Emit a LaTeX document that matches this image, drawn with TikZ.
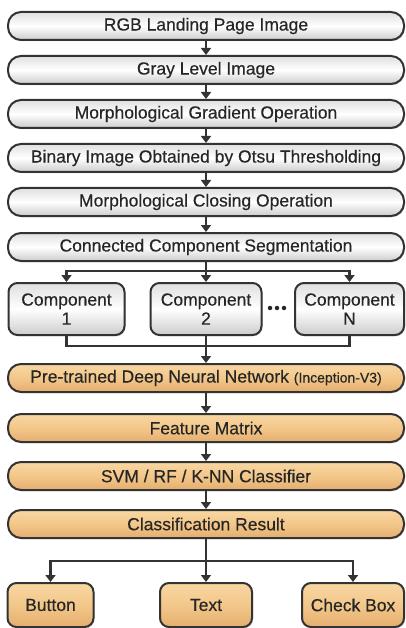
\documentclass[tikz,border=0pt]{standalone}
\usepackage{fontspec}
\setmainfont[FakeBold=0.4]{Liberation Sans}
\usetikzlibrary{arrows.meta,shadows}
\definecolor{txt}{HTML}{262626}
\definecolor{edge}{HTML}{333333}
\definecolor{orA}{HTML}{F8D7A2}
\definecolor{orB}{HTML}{F3C78A}
\definecolor{orC}{HTML}{E4AE6E}
\begin{document}
\begin{tikzpicture}[x=1pt,y=1pt,
 base/.style={draw=edge, line width=2pt, text=txt, font=\fontsize{17.5}{19}\selectfont, inner sep=0pt, align=center,
   drop shadow={opacity=0.35,shadow xshift=1pt,shadow yshift=-1.2pt}},
 graybox/.style={base, top color=gray!25, bottom color=gray!40, middle color=white},
 orbox/.style={base, top color=orA, bottom color=orC, middle color=orB},
 pill/.style={minimum width=396pt, minimum height=28pt, rounded corners=13pt},
 compbox/.style={graybox, minimum height=52pt, rounded corners=9pt},
 outbox/.style={orbox, minimum height=44pt, rounded corners=9pt},
 conn/.style={draw=edge, line width=2.3pt},
 arr/.style={conn, -{Triangle[width=10pt,length=7pt]}},
 dotmark/.style={fill=txt, circle, inner sep=0pt, minimum size=4.5pt}
]
\useasboundingbox (0,0) rectangle (406,-628);

\node[graybox,pill] (n1) at (206,-26) {RGB Landing Page Image};
\node[graybox,pill] (n2) at (206,-70) {Gray Level Image};
\node[graybox,pill] (n3) at (206,-114) {Morphological Gradient Operation};
\node[graybox,pill] (n4) at (206,-158) {Binary Image Obtained by Otsu Thresholding};
\node[graybox,pill] (n5) at (206,-202) {Morphological Closing Operation};
\node[graybox,pill] (n6) at (206,-247) {Connected Component Segmentation};

\node[compbox,minimum width=116pt] (c1) at (66.5,-309) {Component\\1};
\node[compbox,minimum width=111pt] (c2) at (206,-309) {Component\\2};
\node[compbox,minimum width=109pt] (cN) at (349.5,-309) {Component\\N};
\node[dotmark] (d1) at (270,-308) {};
\node[dotmark] (d2) at (277,-308) {};
\node[dotmark] (d3) at (284,-308) {};

\node[orbox,pill] (n7) at (206,-378) {Pre-trained Deep Neural Network\ {\fontsize{14}{15}\selectfont(Inception-V3)}};
\node[orbox,pill] (n8) at (206,-428) {Feature Matrix};
\node[orbox,pill] (n9) at (206,-476) {SVM / RF / K-NN Classifier};
\node[orbox,pill] (n10) at (206,-524) {Classification Result};

\node[outbox,minimum width=86pt] (o1) at (50.5,-605) {Button};
\node[outbox,minimum width=92pt] (o2) at (206,-605) {Text};
\node[outbox,minimum width=102pt] (o3) at (353,-605) {Check Box};

\draw[arr] (n1.south) -- (n2.north);
\draw[arr] (n2.south) -- (n3.north);
\draw[arr] (n3.south) -- (n4.north);
\draw[arr] (n4.south) -- (n5.north);
\draw[arr] (n5.south) -- (n6.north);

\coordinate (s1) at (206,-271);
\draw[conn] (n6.south) -- (s1);
\draw[arr] (s1) -| (c1.north);
\draw[arr] (s1) -| (cN.north);
\draw[arr] (s1) -- (c2.north);

\coordinate (m1) at (206,-346);
\draw[conn] (c1.south) |- (m1) -| (cN.south);
\draw[conn] (c2.south) -- (m1);
\draw[arr] (m1) -- (n7.north);

\draw[arr] (n7.south) -- (n8.north);
\draw[arr] (n8.south) -- (n9.north);
\draw[arr] (n9.south) -- (n10.north);

\coordinate (s2) at (206,-561);
\draw[conn] (n10.south) -- (s2);
\draw[arr] (s2) -| (o1.north);
\draw[arr] (s2) -| (o3.north);
\draw[arr] (s2) -- (o2.north);
\end{tikzpicture}
\end{document}
